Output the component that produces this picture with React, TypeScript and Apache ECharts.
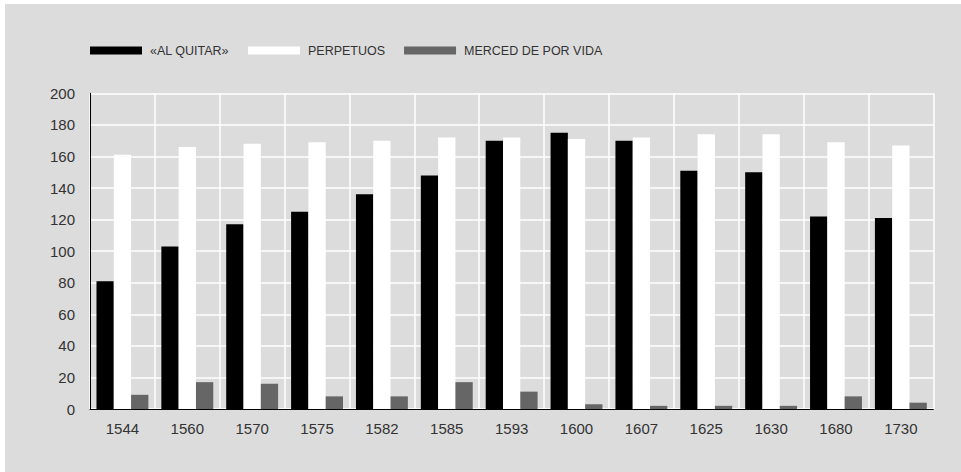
import React, { useEffect, useRef } from "react";
import * as echarts from "echarts";

const years = ["1544", "1560", "1570", "1575", "1582", "1585", "1593", "1600", "1607", "1625", "1630", "1680", "1730"];
const alQuitar = [81, 103, 117, 125, 136, 148, 170, 175, 170, 151, 150, 122, 121];
const perpetuos = [161, 166, 168, 169, 170, 172, 172, 171, 172, 174, 174, 169, 167];
const merced = [9, 17, 16, 8, 8, 17, 11, 3, 2, 2, 2, 8, 4];
const seriesNames = ["«AL QUITAR»", "PERPETUOS", "MERCED DE POR VIDA"];

const FONT = "'Liberation Sans', Arial, Helvetica, sans-serif";

export default function App() {
  const ref = useRef<HTMLDivElement>(null);
  useEffect(() => {
    if (!ref.current) return;
    const chart = echarts.init(ref.current, null, { renderer: "svg" });
    const colors = ["#000000", "#ffffff", "#666666"];
    const datas = [alQuitar, perpetuos, merced];
    chart.setOption({
      animation: false,
      backgroundColor: "#dcdcdc",
      textStyle: { fontFamily: FONT },
      legend: {
        left: 85,
        top: 40,
        padding: 0,
        itemWidth: 52,
        itemHeight: 8,
        itemGap: 19,
        icon: "rect",
        textStyle: { fontSize: 12.5, color: "#333333", fontFamily: FONT, padding: [0, 0, 0, 3] },
        data: seriesNames,
      },
      grid: { left: 85, top: 89.3, right: 27.7, bottom: 63, containLabel: false },
      xAxis: {
        type: "category",
        data: years,
        axisLine: { show: true, lineStyle: { color: "#000000", width: 1 } },
        axisTick: { show: false },
        axisLabel: { fontSize: 15, color: "#333333", margin: 12, fontFamily: FONT },
        splitLine: { show: true, lineStyle: { color: "#ffffff", width: 1.5 } },
      },
      yAxis: {
        type: "value",
        min: 0,
        max: 200,
        interval: 20,
        axisLine: { show: true, lineStyle: { color: "#000000", width: 1 } },
        axisTick: { show: false },
        axisLabel: { fontSize: 15, color: "#333333", margin: 15, fontFamily: FONT },
        splitLine: { show: true, lineStyle: { color: "#ffffff", width: 1.5 } },
      },
      series: seriesNames.map((name, i) => ({
        name,
        type: "bar",
        data: datas[i],
        barGap: "0%",
        barCategoryGap: "20%",
        itemStyle: { color: colors[i] },
        emphasis: { disabled: true },
      })),
    });
    return () => chart.dispose();
  }, []);
  return (
    <div style={{ position: "fixed", left: 0, top: 0, width: 961, height: 472, background: "#ffffff" }}>
      <div ref={ref} style={{ position: "absolute", left: 5, top: 4, width: 956, height: 468 }} />
    </div>
  );
}
